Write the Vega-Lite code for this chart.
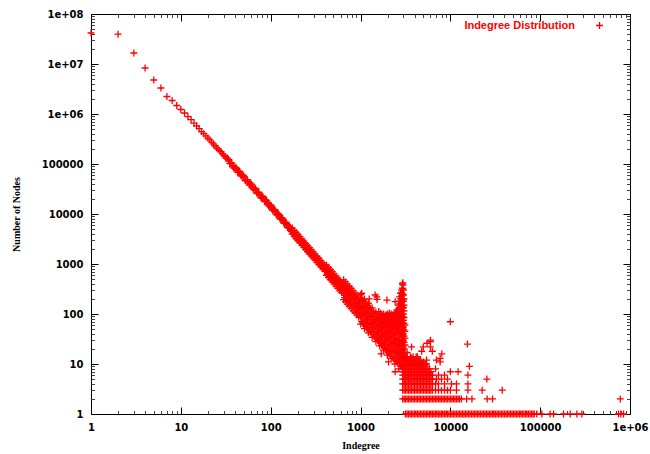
{
"$schema": "https://vega.github.io/schema/vega-lite/v6.json",
"width": 539, "height": 400,
"autosize": "none",
"padding": {"left": 91, "top": 14, "right": 20, "bottom": 40},
"background": "white",
"config": {"view": {"stroke": "black", "strokeWidth": 1}, "axis": {"domain": false, "grid": false}},
"datasets": {
"anchor": [{"x": 1, "y": 1}],
"pts": [
{"x":1,"y":41690000},{"x":2,"y":39500000},{"x":3,"y":16600000},{"x":4,"y":8320000},{"x":5,"y":4790000},{"x":6,"y":3310000},{"x":7,"y":2240000},{"x":8,"y":1860000},{"x":9,"y":1480000},{"x":10,"y":1230000},{"x":11,"y":1047000},{"x":12,"y":885000},{"x":13,"y":770000},{"x":14,"y":658000},{"x":15,"y":575000},{"x":16,"y":508000},{"x":17,"y":445000},{"x":18,"y":405000},{"x":19,"y":365000},{"x":20,"y":330000},{"x":21,"y":305000},{"x":22,"y":275000},{"x":23,"y":252000},{"x":24,"y":232000},{"x":25,"y":211000},{"x":26,"y":199000},{"x":27,"y":185000},{"x":28,"y":176000},{"x":29,"y":161000},{"x":30,"y":151000},{"x":31,"y":141000},
{"x":32,"y":130000},{"x":34,"y":116000},{"x":34,"y":124000},{"x":36,"y":103600},{"x":38,"y":93200},{"x":38,"y":88000},{"x":40,"y":84300},{"x":42,"y":76700},{"x":42,"y":80500},{"x":44,"y":70000},{"x":46,"y":64200},{"x":46,"y":61000},{"x":48,"y":59100},{"x":50,"y":54600},{"x":50,"y":57500},{"x":53,"y":48700},{"x":53,"y":46000},{"x":56,"y":43800},{"x":59,"y":39500},{"x":59,"y":42000},{"x":62,"y":35900},{"x":62,"y":34000},{"x":65,"y":32700},{"x":68,"y":30000},{"x":68,"y":31800},{"x":72,"y":26800},{"x":72,"y":25300},{"x":76,"y":24100},{"x":80,"y":21800},{"x":80,"y":23000},{"x":80,"y":20600},{"x":84,"y":19840},{"x":88,"y":18120},{"x":88,"y":19300},{"x":92,"y":16620},{"x":92,"y":15700},{"x":97,"y":14990},{"x":102,"y":13560},{"x":102,"y":14400},{"x":102,"y":12800},{"x":107,"y":12290},{"x":112,"y":11200},{"x":112,"y":11900},{"x":118,"y":10060},{"x":118,"y":9500},{"x":124,"y":9090},{"x":124,"y":9700},{"x":130,"y":8250},{"x":130,"y":7800},{"x":136,"y":7520},{"x":136,"y":8000},{"x":143,"y":6790},{"x":143,"y":6400},{"x":150,"y":6150},{"x":150,"y":6600},{"x":158,"y":5530},{"x":158,"y":5200},{"x":166,"y":5000},{"x":166,"y":5350},{"x":166,"y":4700},
{"x":33,"y":131300},{"x":35,"y":101700},{"x":37,"y":105100},{"x":39,"y":82400},{"x":41,"y":86000},{"x":43,"y":68100},{"x":45,"y":71700},{"x":47,"y":57300},{"x":49,"y":60700},{"x":52,"y":47000},{"x":55,"y":48500},{"x":58,"y":38000},{"x":61,"y":39600},{"x":64,"y":31400},{"x":67,"y":33000},{"x":70,"y":26300},{"x":74,"y":27200},{"x":78,"y":21300},{"x":82,"y":22250},{"x":86,"y":17600},{"x":90,"y":18560},{"x":95,"y":14520},{"x":100,"y":15120},{"x":105,"y":11890},{"x":110,"y":12430},{"x":115,"y":9870},{"x":121,"y":10230},{"x":127,"y":8050},{"x":133,"y":8420},{"x":140,"y":6590},{"x":147,"y":6860},{"x":154,"y":5420},{"x":162,"y":5620},{"x":170,"y":4430},
{"x":174,"y":3950},{"x":174,"y":5220},{"x":183,"y":3560},{"x":183,"y":4700},{"x":192,"y":3230},{"x":192,"y":4270},{"x":192,"y":3710},{"x":201,"y":2940},{"x":201,"y":3890},{"x":211,"y":2660},{"x":211,"y":3520},{"x":222,"y":2390},{"x":222,"y":3160},{"x":222,"y":2750},{"x":233,"y":2170},{"x":233,"y":2860},{"x":245,"y":1960},{"x":245,"y":2590},{"x":257,"y":1770},{"x":257,"y":2350},{"x":257,"y":2040},{"x":270,"y":1600},{"x":270,"y":2120},{"x":283,"y":1450},{"x":283,"y":1920},{"x":297,"y":1320},{"x":297,"y":1750},{"x":297,"y":1520},{"x":312,"y":1190},{"x":312,"y":1580},{"x":328,"y":1080},{"x":328,"y":1430},{"x":328,"y":1240},{"x":344,"y":975},{"x":344,"y":1290},{"x":361,"y":880},{"x":361,"y":1170},{"x":361,"y":1016},{"x":379,"y":800},{"x":379,"y":1060},{"x":398,"y":720},{"x":398,"y":960},{"x":398,"y":832},
{"x":178,"y":4030},{"x":178,"y":4630},{"x":187,"y":3640},{"x":187,"y":4190},{"x":196,"y":3310},{"x":196,"y":3800},{"x":206,"y":2990},{"x":206,"y":3430},{"x":216,"y":2710},{"x":216,"y":3120},{"x":227,"y":2450},{"x":227,"y":2820},{"x":239,"y":2200},{"x":239,"y":2530},{"x":251,"y":1990},{"x":251,"y":2290},{"x":263,"y":1810},{"x":263,"y":2080},{"x":276,"y":1640},{"x":276,"y":1890},{"x":290,"y":1480},{"x":290,"y":1700},{"x":304,"y":1345},{"x":304,"y":1550},{"x":320,"y":1210},{"x":320,"y":1390},{"x":336,"y":1095},{"x":336,"y":1260},{"x":352,"y":996},{"x":352,"y":1146},{"x":370,"y":899},{"x":370,"y":1035},{"x":388,"y":816},{"x":388,"y":938},{"x":408,"y":736},{"x":408,"y":846},
{"x":418,"y":594},{"x":418,"y":752},{"x":418,"y":948},{"x":439,"y":538},{"x":439,"y":681},{"x":439,"y":858},{"x":461,"y":487},{"x":461,"y":616},{"x":461,"y":776},{"x":484,"y":440},{"x":484,"y":557},{"x":484,"y":702},{"x":508,"y":399},{"x":508,"y":505},{"x":508,"y":636},{"x":533,"y":361},{"x":533,"y":457},{"x":533,"y":576},{"x":560,"y":326},{"x":560,"y":413},{"x":560,"y":520},{"x":588,"y":295},{"x":588,"y":374},{"x":588,"y":471},{"x":617,"y":268},{"x":617,"y":339},{"x":617,"y":427},
{"x":428,"y":638},{"x":428,"y":803},{"x":450,"y":576},{"x":450,"y":725},{"x":472,"y":522},{"x":472,"y":657},{"x":496,"y":472},{"x":496,"y":594},{"x":520,"y":428},{"x":520,"y":539},{"x":546,"y":387},{"x":546,"y":487},{"x":574,"y":350},{"x":574,"y":440},{"x":602,"y":317},{"x":602,"y":399},{"x":632,"y":287},{"x":632,"y":362},
{"x":648,"y":193},{"x":648,"y":260},{"x":648,"y":358},{"x":648,"y":483},{"x":680,"y":175},{"x":680,"y":236},{"x":680,"y":325},{"x":680,"y":439},{"x":714,"y":158},{"x":714,"y":213},{"x":714,"y":294},{"x":714,"y":397},{"x":750,"y":143},{"x":750,"y":193},{"x":750,"y":266},{"x":750,"y":359},{"x":788,"y":129},{"x":788,"y":174},{"x":788,"y":240},{"x":788,"y":324},{"x":827,"y":117},{"x":827,"y":158},{"x":827,"y":218},{"x":827,"y":294},{"x":868,"y":106},{"x":868,"y":143},{"x":868,"y":197},{"x":868,"y":265},{"x":911,"y":96},{"x":911,"y":129},{"x":911,"y":178},{"x":911,"y":240},{"x":957,"y":87},{"x":957,"y":117},{"x":957,"y":161},{"x":957,"y":218},
{"x":664,"y":212},{"x":664,"y":291},{"x":664,"y":396},{"x":697,"y":193},{"x":697,"y":264},{"x":697,"y":359},{"x":732,"y":174},{"x":732,"y":239},{"x":732,"y":325},{"x":769,"y":158},{"x":769,"y":216},{"x":769,"y":294},{"x":807,"y":142},{"x":807,"y":195},{"x":807,"y":265},{"x":847,"y":129},{"x":847,"y":177},{"x":847,"y":241},{"x":889,"y":117},{"x":889,"y":160},{"x":889,"y":218},{"x":934,"y":106},{"x":934,"y":145},{"x":934,"y":197},{"x":980,"y":96},{"x":980,"y":131},{"x":980,"y":178},
{"x":1005,"y":63},{"x":1005,"y":88},{"x":1005,"y":125},{"x":1005,"y":175},{"x":1005,"y":244},{"x":1055,"y":66},{"x":1055,"y":95},{"x":1055,"y":133},{"x":1055,"y":186},{"x":1108,"y":51},{"x":1108,"y":71},{"x":1108,"y":102},{"x":1108,"y":143},{"x":1108,"y":199},{"x":1163,"y":53},{"x":1163,"y":77},{"x":1163,"y":109},{"x":1163,"y":152},{"x":1221,"y":42},{"x":1221,"y":59},{"x":1221,"y":84},{"x":1221,"y":118},{"x":1221,"y":164},{"x":1282,"y":44},{"x":1282,"y":64},{"x":1282,"y":90},{"x":1282,"y":125},{"x":1346,"y":34},{"x":1346,"y":48},{"x":1346,"y":68},{"x":1346,"y":95},{"x":1346,"y":133},{"x":1413,"y":36},{"x":1413,"y":52},{"x":1413,"y":73},{"x":1413,"y":102},{"x":1484,"y":28},{"x":1484,"y":39},{"x":1484,"y":56},{"x":1484,"y":78},{"x":1484,"y":109},{"x":1558,"y":30},{"x":1558,"y":43},{"x":1558,"y":60},{"x":1558,"y":84},{"x":1636,"y":23},{"x":1636,"y":32},{"x":1636,"y":46},{"x":1636,"y":64},{"x":1636,"y":90},{"x":1718,"y":24},{"x":1718,"y":35},{"x":1718,"y":49},{"x":1718,"y":68},{"x":1804,"y":19},{"x":1804,"y":26},{"x":1804,"y":38},{"x":1804,"y":53},{"x":1804,"y":73},{"x":1894,"y":20},{"x":1894,"y":29},{"x":1894,"y":40},{"x":1894,"y":56},{"x":1989,"y":15},{"x":1989,"y":21},{"x":1989,"y":31},{"x":1989,"y":43},{"x":1989,"y":60},{"x":2088,"y":16},{"x":2088,"y":23},{"x":2088,"y":33},{"x":2088,"y":46},{"x":2192,"y":13},{"x":2192,"y":18},{"x":2192,"y":25},{"x":2192,"y":35},{"x":2192,"y":49},{"x":2302,"y":13},{"x":2302,"y":19},{"x":2302,"y":27},{"x":2302,"y":38},{"x":2417,"y":10},{"x":2417,"y":14},{"x":2417,"y":21},{"x":2417,"y":29},{"x":2417,"y":40},{"x":2538,"y":11},{"x":2538,"y":16},{"x":2538,"y":22},{"x":2538,"y":31},{"x":2665,"y":8},{"x":2665,"y":12},{"x":2665,"y":17},{"x":2665,"y":24},{"x":2665,"y":33},{"x":2798,"y":9},{"x":2798,"y":13},{"x":2798,"y":18},{"x":2798,"y":25},{"x":2938,"y":7},{"x":2938,"y":10},{"x":2938,"y":14},{"x":2938,"y":19},{"x":2938,"y":27},
{"x":1030,"y":71},{"x":1030,"y":101},{"x":1030,"y":142},{"x":1030,"y":201},{"x":1081,"y":64},{"x":1081,"y":91},{"x":1081,"y":129},{"x":1081,"y":182},{"x":1135,"y":58},{"x":1135,"y":82},{"x":1135,"y":116},{"x":1135,"y":165},{"x":1192,"y":53},{"x":1192,"y":75},{"x":1192,"y":105},{"x":1192,"y":149},{"x":1251,"y":48},{"x":1251,"y":68},{"x":1251,"y":95},{"x":1251,"y":135},{"x":1314,"y":43},{"x":1314,"y":61},{"x":1314,"y":86},{"x":1314,"y":122},{"x":1379,"y":39},{"x":1379,"y":55},{"x":1379,"y":78},{"x":1379,"y":111},{"x":1448,"y":35},{"x":1448,"y":50},{"x":1448,"y":71},{"x":1448,"y":100},{"x":1520,"y":32},{"x":1520,"y":45},{"x":1520,"y":64},{"x":1520,"y":91},{"x":1596,"y":29},{"x":1596,"y":41},{"x":1596,"y":58},{"x":1596,"y":82},{"x":1596,"y":112},{"x":1676,"y":26},{"x":1676,"y":37},{"x":1676,"y":52},{"x":1676,"y":74},{"x":1676,"y":104},{"x":1760,"y":24},{"x":1760,"y":34},{"x":1760,"y":47},{"x":1760,"y":67},{"x":1760,"y":88},{"x":1848,"y":21},{"x":1848,"y":30},{"x":1848,"y":43},{"x":1848,"y":61},{"x":1848,"y":80},{"x":1940,"y":19},{"x":1940,"y":28},{"x":1940,"y":39},{"x":1940,"y":55},{"x":1940,"y":70},{"x":1940,"y":90},{"x":2037,"y":17},{"x":2037,"y":25},{"x":2037,"y":35},{"x":2037,"y":50},{"x":2037,"y":68},{"x":2037,"y":88},{"x":2139,"y":16},{"x":2139,"y":23},{"x":2139,"y":32},{"x":2139,"y":45},{"x":2139,"y":62},{"x":2139,"y":80},{"x":2246,"y":14},{"x":2246,"y":20},{"x":2246,"y":29},{"x":2246,"y":41},{"x":2246,"y":58},{"x":2246,"y":75},{"x":2246,"y":95},{"x":2358,"y":13},{"x":2358,"y":18},{"x":2358,"y":26},{"x":2358,"y":37},{"x":2358,"y":50},{"x":2358,"y":65},{"x":2358,"y":88},{"x":2476,"y":12},{"x":2476,"y":17},{"x":2476,"y":24},{"x":2476,"y":33},{"x":2476,"y":45},{"x":2476,"y":62},{"x":2476,"y":85},{"x":2476,"y":105},{"x":2600,"y":11},{"x":2600,"y":15},{"x":2600,"y":21},{"x":2600,"y":30},{"x":2600,"y":45},{"x":2600,"y":65},{"x":2600,"y":90},{"x":2600,"y":120},{"x":2730,"y":10},{"x":2730,"y":14},{"x":2730,"y":19},{"x":2730,"y":27},{"x":2730,"y":40},{"x":2730,"y":55},{"x":2730,"y":75},{"x":2730,"y":110},{"x":2730,"y":160},{"x":2866,"y":9},{"x":2866,"y":12},{"x":2866,"y":17},{"x":2866,"y":25},{"x":2866,"y":45},{"x":2866,"y":65},{"x":2866,"y":95},{"x":2866,"y":140},{"x":2866,"y":200},{"x":2866,"y":270},
{"x":1718,"y":95},{"x":1804,"y":100},{"x":1804,"y":85},{"x":1894,"y":78},{"x":1894,"y":95},{"x":1989,"y":85},{"x":1989,"y":100},{"x":2088,"y":65},{"x":2088,"y":90},{"x":2088,"y":105},{"x":2192,"y":68},{"x":2192,"y":90},{"x":2192,"y":100},{"x":2302,"y":52},{"x":2302,"y":95},{"x":2538,"y":42},{"x":2538,"y":58},{"x":2538,"y":80},{"x":2538,"y":110},{"x":2665,"y":45},{"x":2665,"y":62},{"x":2665,"y":88},{"x":2665,"y":130},
{"x":2300,"y":55},{"x":2300,"y":70},{"x":2300,"y":87},{"x":2420,"y":60},{"x":2420,"y":80},{"x":2420,"y":100},{"x":2540,"y":45},{"x":2540,"y":70},{"x":2540,"y":95},{"x":2540,"y":120},{"x":2650,"y":50},{"x":2650,"y":75},{"x":2650,"y":110},{"x":2650,"y":150},{"x":2720,"y":60},{"x":2720,"y":90},{"x":2720,"y":130},{"x":2720,"y":180},{"x":2720,"y":220},{"x":2800,"y":40},{"x":2800,"y":70},{"x":2800,"y":100},{"x":2800,"y":150},{"x":2800,"y":200},{"x":2800,"y":260},{"x":2870,"y":35},{"x":2870,"y":55},{"x":2870,"y":85},{"x":2870,"y":120},{"x":2870,"y":170},{"x":2870,"y":230},{"x":2870,"y":300},{"x":2920,"y":30},{"x":2920,"y":45},{"x":2920,"y":65},{"x":2920,"y":90},{"x":2920,"y":130},{"x":2920,"y":180},{"x":2920,"y":250},{"x":2920,"y":330},{"x":2920,"y":400},{"x":2960,"y":20},{"x":2960,"y":28},{"x":2960,"y":38},{"x":2960,"y":50},{"x":2960,"y":66},{"x":2960,"y":88},{"x":2960,"y":115},{"x":2960,"y":150},{"x":2960,"y":195},{"x":2960,"y":250},{"x":2960,"y":320},{"x":2960,"y":380},{"x":2960,"y":420},{"x":3000,"y":12},{"x":3000,"y":16},{"x":3000,"y":22},{"x":3000,"y":30},{"x":3000,"y":40},{"x":3000,"y":55},{"x":3000,"y":75},{"x":3000,"y":100},{"x":3000,"y":135},{"x":3000,"y":180},{"x":3000,"y":240},{"x":3000,"y":300},{"x":3050,"y":8},{"x":3050,"y":11},{"x":3050,"y":15},{"x":3050,"y":20},{"x":3050,"y":27},{"x":3050,"y":36},{"x":3050,"y":48},{"x":3050,"y":64},{"x":3050,"y":85},{"x":3050,"y":115},{"x":3050,"y":150},{"x":3050,"y":200},{"x":3120,"y":12},{"x":3120,"y":17},{"x":3120,"y":24},{"x":3120,"y":33},{"x":3120,"y":45},{"x":3120,"y":60},
{"x":1030,"y":260},{"x":1455,"y":240},{"x":1530,"y":196},{"x":1520,"y":220},{"x":1970,"y":190},{"x":2430,"y":176},{"x":1250,"y":200},{"x":2430,"y":7},{"x":2050,"y":11},{"x":1700,"y":16},
{"x":2950,"y":3},{"x":3180,"y":3},{"x":3430,"y":3},{"x":3700,"y":3},{"x":4000,"y":3},{"x":4320,"y":3},{"x":4660,"y":3},{"x":5030,"y":3},{"x":5430,"y":3},{"x":5860,"y":3},{"x":6330,"y":3},{"x":6840,"y":3},{"x":7380,"y":3},{"x":7970,"y":3},{"x":8610,"y":3},{"x":9300,"y":3},{"x":10000,"y":3},{"x":11700,"y":3},{"x":15700,"y":3},{"x":22600,"y":3},{"x":37800,"y":3},
{"x":2950,"y":4},{"x":3180,"y":4},{"x":3430,"y":4},{"x":3700,"y":4},{"x":4000,"y":4},{"x":4320,"y":4},{"x":4660,"y":4},{"x":5030,"y":4},{"x":5430,"y":4},{"x":5860,"y":4},{"x":6330,"y":4},{"x":6840,"y":4},{"x":7380,"y":4},{"x":8610,"y":4},{"x":10300,"y":4},{"x":11700,"y":4},{"x":15700,"y":4},
{"x":2950,"y":5},{"x":3180,"y":5},{"x":3430,"y":5},{"x":3700,"y":5},{"x":4000,"y":5},{"x":4320,"y":5},{"x":4660,"y":5},{"x":5030,"y":5},{"x":5430,"y":5},{"x":5860,"y":5},{"x":6330,"y":5},{"x":7000,"y":5},{"x":7970,"y":5},{"x":9300,"y":5},{"x":25500,"y":5},
{"x":2950,"y":6},{"x":3180,"y":6},{"x":3430,"y":6},{"x":3700,"y":6},{"x":4000,"y":6},{"x":4320,"y":6},{"x":4660,"y":6},{"x":5030,"y":6},{"x":5430,"y":6},{"x":5860,"y":6},{"x":6330,"y":6},{"x":7380,"y":6},{"x":8610,"y":6},{"x":15700,"y":6},
{"x":2950,"y":8},{"x":3180,"y":8},{"x":3430,"y":8},{"x":3700,"y":8},{"x":4000,"y":8},{"x":4320,"y":8},{"x":4660,"y":8},{"x":5030,"y":8},{"x":5430,"y":8},{"x":5860,"y":8},{"x":6840,"y":8},
{"x":2950,"y":10},{"x":3180,"y":10},{"x":3430,"y":10},{"x":3700,"y":10},{"x":4000,"y":10},{"x":4320,"y":10},{"x":4660,"y":10},{"x":5030,"y":10},{"x":5430,"y":10},
{"x":2950,"y":12},{"x":3430,"y":12},{"x":4000,"y":12},{"x":4660,"y":12},{"x":5430,"y":12},
{"x":3060,"y":3},{"x":3300,"y":3},{"x":3560,"y":3},{"x":3850,"y":3},{"x":4160,"y":3},{"x":4490,"y":3},{"x":4840,"y":3},{"x":5230,"y":3},{"x":5640,"y":3},{"x":6090,"y":3},
{"x":3060,"y":4},{"x":3300,"y":4},{"x":3560,"y":4},{"x":3850,"y":4},{"x":4160,"y":4},{"x":4490,"y":4},{"x":4840,"y":4},{"x":5230,"y":4},{"x":5640,"y":4},{"x":6090,"y":4},
{"x":3060,"y":5},{"x":3300,"y":5},{"x":3560,"y":5},{"x":3850,"y":5},{"x":4160,"y":5},{"x":4490,"y":5},{"x":4840,"y":5},{"x":5230,"y":5},{"x":5640,"y":5},{"x":6090,"y":5},
{"x":3060,"y":6},{"x":3300,"y":6},{"x":3560,"y":6},{"x":3850,"y":6},{"x":4160,"y":6},{"x":4490,"y":6},{"x":4840,"y":6},{"x":5230,"y":6},{"x":5640,"y":6},{"x":6090,"y":6},
{"x":3060,"y":7},{"x":3300,"y":7},{"x":3560,"y":7},{"x":3850,"y":7},{"x":4160,"y":7},{"x":4490,"y":7},{"x":4840,"y":7},{"x":5230,"y":7},{"x":5640,"y":7},{"x":6090,"y":7},
{"x":3060,"y":8},{"x":3300,"y":8},{"x":3560,"y":8},{"x":3850,"y":8},{"x":4160,"y":8},{"x":4490,"y":8},{"x":4840,"y":8},{"x":5230,"y":8},{"x":5640,"y":8},
{"x":3060,"y":9},{"x":3300,"y":9},{"x":3560,"y":9},{"x":3850,"y":9},{"x":4160,"y":9},{"x":4490,"y":9},{"x":4840,"y":9},{"x":5230,"y":9},
{"x":3060,"y":10},{"x":3300,"y":10},{"x":3560,"y":10},{"x":3850,"y":10},{"x":4160,"y":10},{"x":4490,"y":10},{"x":4840,"y":10},{"x":5230,"y":10},
{"x":2950,"y":11},{"x":3180,"y":11},{"x":3430,"y":11},{"x":3700,"y":11},{"x":4000,"y":11},{"x":4320,"y":11},{"x":4660,"y":11},{"x":5030,"y":11},
{"x":3060,"y":12},{"x":3300,"y":12},{"x":3560,"y":12},{"x":3850,"y":12},{"x":4160,"y":12},{"x":4490,"y":12},
{"x":3180,"y":13},{"x":3700,"y":13},{"x":4320,"y":13},{"x":3060,"y":14},{"x":3300,"y":14},{"x":3850,"y":14},{"x":4160,"y":14},
{"x":10000,"y":7},{"x":12200,"y":7},{"x":16300,"y":9},{"x":3100,"y":14},{"x":3600,"y":14},{"x":4300,"y":14},{"x":3300,"y":17},{"x":4800,"y":18},{"x":3700,"y":22},{"x":5000,"y":22},{"x":5500,"y":26},{"x":6000,"y":28},{"x":6000,"y":22},{"x":6300,"y":18},{"x":7000,"y":12},{"x":7700,"y":11},{"x":8040,"y":16},{"x":7700,"y":13},{"x":6000,"y":30},{"x":10000,"y":70},{"x":15500,"y":25},
{"x":2950,"y":2},{"x":3180,"y":2},{"x":3430,"y":2},{"x":3700,"y":2},{"x":4000,"y":2},{"x":4320,"y":2},{"x":4660,"y":2},{"x":5030,"y":2},{"x":5430,"y":2},{"x":5860,"y":2},{"x":6330,"y":2},{"x":6840,"y":2},{"x":7380,"y":2},{"x":7970,"y":2},{"x":8610,"y":2},{"x":9300,"y":2},{"x":10040,"y":2},{"x":10850,"y":2},{"x":11720,"y":2},{"x":12650,"y":2},{"x":13300,"y":2},{"x":15200,"y":2},{"x":17400,"y":2},{"x":25700,"y":2},{"x":29500,"y":2},{"x":780000,"y":2},
{"x":3060,"y":2},{"x":3300,"y":2},{"x":3560,"y":2},{"x":3850,"y":2},{"x":4160,"y":2},{"x":4490,"y":2},{"x":4840,"y":2},{"x":5230,"y":2},{"x":5640,"y":2},{"x":6090,"y":2},{"x":6580,"y":2},{"x":7100,"y":2},{"x":7670,"y":2},{"x":8290,"y":2},{"x":8950,"y":2},{"x":9670,"y":2},{"x":10440,"y":2},{"x":11280,"y":2},{"x":12180,"y":2},
{"x":3160,"y":1},{"x":3410,"y":1},{"x":3680,"y":1},{"x":3980,"y":1},{"x":4300,"y":1},{"x":4640,"y":1},{"x":5010,"y":1},{"x":5410,"y":1},{"x":5850,"y":1},{"x":6310,"y":1},{"x":6820,"y":1},{"x":7360,"y":1},{"x":7950,"y":1},{"x":8590,"y":1},{"x":9280,"y":1},{"x":10020,"y":1},{"x":10820,"y":1},{"x":11690,"y":1},{"x":12620,"y":1},{"x":13630,"y":1},{"x":14720,"y":1},{"x":15900,"y":1},{"x":17170,"y":1},{"x":18540,"y":1},{"x":20030,"y":1},{"x":21630,"y":1},{"x":23360,"y":1},{"x":25230,"y":1},{"x":27250,"y":1},{"x":29430,"y":1},{"x":31780,"y":1},{"x":34330,"y":1},{"x":37070,"y":1},{"x":40040,"y":1},{"x":43240,"y":1},{"x":46700,"y":1},{"x":50440,"y":1},{"x":54470,"y":1},{"x":58830,"y":1},{"x":63540,"y":1},{"x":68620,"y":1},{"x":74110,"y":1},{"x":80040,"y":1},{"x":86000,"y":1},{"x":91800,"y":1},{"x":104500,"y":1},{"x":129000,"y":1},{"x":141000,"y":1},{"x":182000,"y":1},{"x":216000,"y":1},{"x":256000,"y":1},{"x":291000,"y":1},{"x":745000,"y":1},{"x":790000,"y":1},{"x":847000,"y":1},
{"x":3290,"y":1},{"x":3550,"y":1},{"x":3830,"y":1},{"x":4140,"y":1},{"x":4470,"y":1},{"x":4830,"y":1},{"x":5210,"y":1},{"x":5630,"y":1},{"x":6080,"y":1},{"x":6560,"y":1},{"x":7090,"y":1},{"x":7650,"y":1},{"x":8270,"y":1},{"x":8930,"y":1},{"x":9650,"y":1},{"x":10420,"y":1},{"x":11250,"y":1},{"x":12160,"y":1},{"x":13130,"y":1},{"x":14180,"y":1},{"x":15310,"y":1},{"x":16540,"y":1},{"x":17860,"y":1},{"x":19290,"y":1},{"x":20830,"y":1},{"x":22500,"y":1},{"x":24300,"y":1},{"x":26240,"y":1},{"x":28340,"y":1},{"x":30610,"y":1},{"x":33060,"y":1},{"x":35700,"y":1},{"x":38560,"y":1},{"x":41640,"y":1},{"x":44970,"y":1},{"x":48570,"y":1},{"x":52460,"y":1},{"x":56650,"y":1},{"x":61180,"y":1},{"x":66080,"y":1},{"x":71360,"y":1},{"x":77080,"y":1},{"x":83200,"y":1}
]
},
"layer": [
{
"data": {"name": "pts"},
"mark": {"type": "point", "shape": "M-1,0L1,0M0,-1L0,1", "size": 49, "filled": false, "strokeWidth": 1.3, "opacity": 1},
"encoding": {
"x": {"field": "x", "type": "quantitative", "scale": {"type": "log", "domain": [1, 1000000], "nice": false},
 "axis": {"orient": "bottom", "values": [1,10,100,1000,10000,100000,1000000], "labelExpr": "datum.value >= 1000000 ? '1e+06' : format(datum.value, 'd')", "tickSize": -7, "tickColor": "black", "labelFont": "DejaVu Sans", "labelFontSize": 10, "labelFontWeight": "bold", "labelColor": "black", "labelPadding": 15, "labelFlush": false, "labelOverlap": false, "title": "Indegree", "titleFont": "Liberation Serif", "titleFontSize": 10, "titleFontWeight": "bold", "titleColor": "black", "titlePadding": 8}},
"y": {"field": "y", "type": "quantitative", "scale": {"type": "log", "domain": [1, 100000000], "nice": false},
 "axis": {"orient": "left", "values": [1,10,100,1000,10000,100000,1000000,10000000,100000000], "labelExpr": "datum.value >= 1000000 ? '1e+0' + round(log(datum.value) / LN10) : format(datum.value, 'd')", "tickSize": -7, "tickColor": "black", "labelFont": "DejaVu Sans", "labelFontSize": 10, "labelFontWeight": "bold", "labelColor": "black", "labelPadding": 15, "labelFlush": false, "labelOverlap": false, "title": "Number of Nodes", "titleFont": "Liberation Serif", "titleFontSize": 10, "titleFontWeight": "bold", "titleColor": "black", "titlePadding": 20}},
"color": {"datum": "Indegree Distribution", "type": "nominal", "scale": {"range": ["#ff0000"]},
 "legend": {"orient": "none", "legendX": 503, "legendY": 6, "title": null, "labelAlign": "right", "labelOffset": -30, "labelColor": "#ff0000", "labelFont": "Liberation Sans", "labelFontSize": 11, "labelFontWeight": "bold", "symbolType": "M-1,0L1,0M0,-1L0,1", "symbolSize": 49, "symbolStrokeWidth": 1.3, "symbolStrokeColor": "#ff0000", "symbolFillColor": "transparent"}}
}
},
{
"data": {"name": "anchor"},
"mark": {"type": "point", "opacity": 0},
"encoding": {
"x": {"field": "x", "type": "quantitative", "scale": {"type": "log", "domain": [1, 1000000], "nice": false}, "axis": {"orient": "top", "values": [1,10,100,1000,10000,100000,1000000], "labels": false, "tickSize": -7, "tickColor": "black", "title": null}},
"y": {"field": "y", "type": "quantitative", "scale": {"type": "log", "domain": [1, 100000000], "nice": false}, "axis": {"orient": "right", "values": [1,10,100,1000,10000,100000,1000000,10000000,100000000], "labels": false, "tickSize": -7, "tickColor": "black", "title": null}}
}
},
{
"data": {"name": "anchor"},
"mark": {"type": "point", "opacity": 0},
"encoding": {
"x": {"field": "x", "type": "quantitative", "scale": {"type": "log", "domain": [1, 1000000], "nice": false}, "axis": {"orient": "bottom", "values": [2,3,4,5,6,7,8,9,20,30,40,50,60,70,80,90,200,300,400,500,600,700,800,900,2000,3000,4000,5000,6000,7000,8000,9000,20000,30000,40000,50000,60000,70000,80000,90000,200000,300000,400000,500000,600000,700000,800000,900000], "labels": false, "tickSize": -3.5, "tickColor": "#444", "title": null}},
"y": {"field": "y", "type": "quantitative", "scale": {"type": "log", "domain": [1, 100000000], "nice": false}, "axis": {"orient": "left", "values": [2,3,4,5,6,7,8,9,20,30,40,50,60,70,80,90,200,300,400,500,600,700,800,900,2000,3000,4000,5000,6000,7000,8000,9000,20000,30000,40000,50000,60000,70000,80000,90000,200000,300000,400000,500000,600000,700000,800000,900000,2000000,3000000,4000000,5000000,6000000,7000000,8000000,9000000,20000000,30000000,40000000,50000000,60000000,70000000,80000000,90000000], "labels": false, "tickSize": -3.5, "tickColor": "#444", "title": null}}
}
},
{
"data": {"name": "anchor"},
"mark": {"type": "point", "opacity": 0},
"encoding": {
"x": {"field": "x", "type": "quantitative", "scale": {"type": "log", "domain": [1, 1000000], "nice": false}, "axis": {"orient": "top", "values": [2,3,4,5,6,7,8,9,20,30,40,50,60,70,80,90,200,300,400,500,600,700,800,900,2000,3000,4000,5000,6000,7000,8000,9000,20000,30000,40000,50000,60000,70000,80000,90000,200000,300000,400000,500000,600000,700000,800000,900000], "labels": false, "tickSize": -3.5, "tickColor": "#444", "title": null}},
"y": {"field": "y", "type": "quantitative", "scale": {"type": "log", "domain": [1, 100000000], "nice": false}, "axis": {"orient": "right", "values": [2,3,4,5,6,7,8,9,20,30,40,50,60,70,80,90,200,300,400,500,600,700,800,900,2000,3000,4000,5000,6000,7000,8000,9000,20000,30000,40000,50000,60000,70000,80000,90000,200000,300000,400000,500000,600000,700000,800000,900000,2000000,3000000,4000000,5000000,6000000,7000000,8000000,9000000,20000000,30000000,40000000,50000000,60000000,70000000,80000000,90000000], "labels": false, "tickSize": -3.5, "tickColor": "#444", "title": null}}
}
}
],
"resolve": {"axis": {"x": "independent", "y": "independent"}}
}
